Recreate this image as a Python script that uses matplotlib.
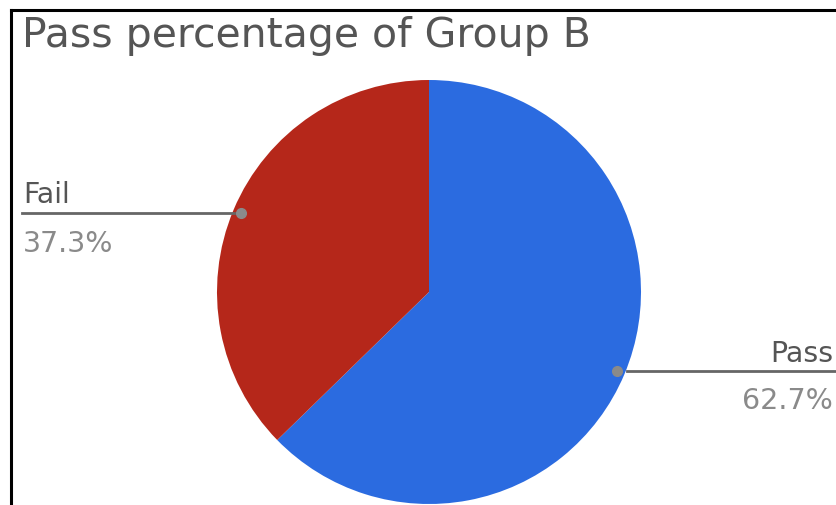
import numpy as np
import matplotlib.pyplot as plt
from matplotlib.lines import Line2D

# dados do gráfico
labels = ['Pass', 'Fail']
values = [62.7, 37.3]
pct_labels = ['62.7%', '37.3%']
colors = ['#2b6be0', '#b5271a']
title = 'Pass percentage of Group B'

W, H = 837, 506
plt.rcParams['font.family'] = ['DejaVu Sans']
fig = plt.figure(figsize=(W / 100, H / 100), dpi=100)
ax = fig.add_axes([0, 0, 1, 1])

cx, cy, r = 429, H - 293, 212
wedges, _ = ax.pie(values, colors=colors, startangle=90, counterclock=False,
                   center=(cx, cy), radius=r, frame=True)
ax.set_xlim(0, W)
ax.set_ylim(0, H)
ax.set_aspect('equal')
ax.axis('off')

# rótulos com linha de chamada
total = sum(values)
start = 90
for i, (lab, pct) in enumerate(zip(labels, pct_labels)):
    span = values[i] / total * 360
    mid = np.deg2rad(start - span / 2)
    start -= span
    dx, dy = cx + 0.96 * r * np.cos(mid), cy + 0.96 * r * np.sin(mid)
    ax.plot(dx, dy, 'o', color='#8a8a8a', ms=7, zorder=5)
    if np.cos(mid) > 0:
        ax.plot([dx + 10, W], [dy, dy], color='#666666', lw=2, zorder=4)
        ax.text(833, dy + 10, lab, ha='right', va='baseline', fontsize=20.5, color='#555555')
        ax.text(833, dy - 37, pct, ha='right', va='baseline', fontsize=20.5, color='#8a8a8a')
    else:
        ax.plot([22, dx - 7], [dy, dy], color='#666666', lw=2, zorder=4)
        ax.text(23, dy + 11, lab, ha='left', va='baseline', fontsize=20.5, color='#555555')
        ax.text(23, dy - 38, pct, ha='left', va='baseline', fontsize=20.5, color='#8a8a8a')

ax.text(22, H - 47, title, ha='left', va='baseline', fontsize=29.5, color='#555555')

# moldura preta (topo e esquerda)
fig.add_artist(Line2D([11 / W, 1], [1 - 10.5 / H, 1 - 10.5 / H], color='black', lw=2.2))
fig.add_artist(Line2D([11 / W, 11 / W], [0, 1 - 10.5 / H], color='black', lw=2.2))

plt.savefig('out.png', dpi=100)
